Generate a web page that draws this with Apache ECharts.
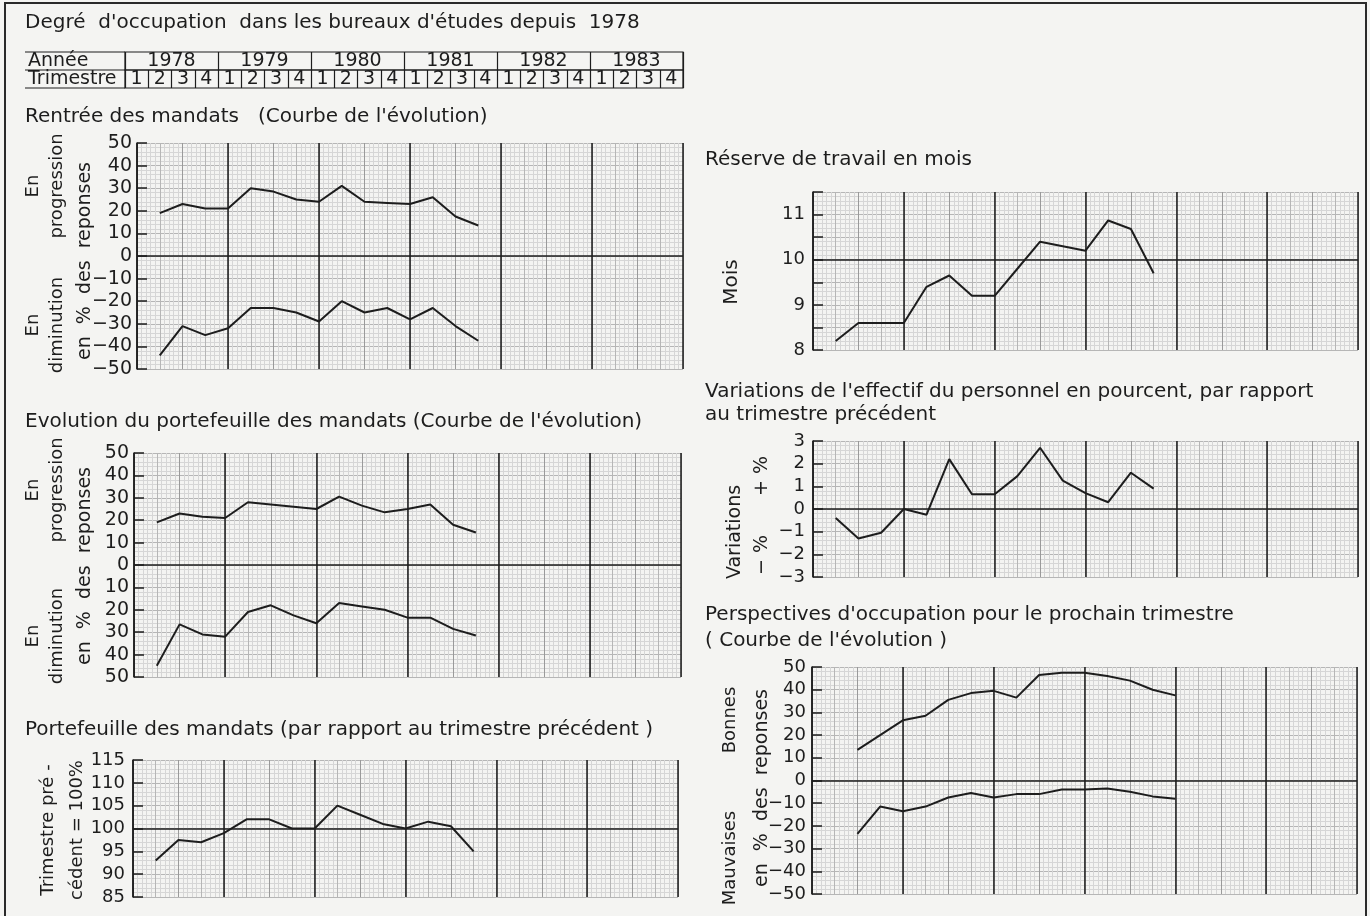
<!DOCTYPE html>
<html><head><meta charset="utf-8">
<script src="https://cdn.jsdelivr.net/npm/echarts@6/dist/echarts.min.js"></script>
<style>html,body{margin:0;padding:0;background:#f4f4f2;}#c{width:1370px;height:916px;}</style>
</head><body><div id="c"></div>
<script>
// ---------- data ----------
const years = ['1978','1979','1980','1981','1982','1983'];
const quarters = ['1','2','3','4'];
// quarter index 1..15 (1978 T1 .. 1981 T3)
const rentreeProgression = [19,23,21,21,30,28.5,25,24,31,24,23.5,23,26,17.5,13.5];
const rentreeDiminution = [-44,-31,-35,-32,-23,-23,-25,-29,-20,-25,-23,-28,-23,-31,-37.5];
const portefeuilleProgression = [19,23,21.5,21,28,27,26,25,30.5,26.5,23.5,25,27,18,14.5];
const portefeuilleDiminution = [-45,-26.5,-31,-32,-21,-18,-22.5,-26,-17,-18.5,-20,-23.5,-23.5,-28.5,-31.5];
const portefeuilleRelatif = [93,97.5,97,99,102,102,100,100,105,103,101,100,101.5,100.5,95];
const reserveMois = [8.2,8.6,8.6,8.6,9.4,9.65,9.2,9.2,9.8,10.4,10.3,10.2,10.87,10.68,9.7];
const variationsEffectif = [-0.4,-1.3,-1.05,0,-0.25,2.2,0.65,0.65,1.45,2.7,1.25,0.7,0.3,1.6,0.9];
// quarter index 2..16
const perspectivesBonnes = [13.5,20,26.5,28.5,35.5,38.5,39.5,36.5,46.5,47.5,47.5,46,44,40,37.5];
const perspectivesMauvaises = [-23.5,-11.5,-13.5,-11.5,-7.5,-5.5,-7.5,-6,-6,-4,-4,-3.5,-5,-7,-8];

// ---------- style ----------
const FONT = 'DejaVu Sans';
const INK = '#1d1d1d';
const FINE = '#d6d6d6', MED = '#b6b6b6', TEN = '#9a9a9a';
const minus = v => String(v).replace('-', '\u2212');

const chart = echarts.init(document.getElementById('c'), null, {width:1370, height:916});
const grids = [], xAxes = [], yAxes = [], series = [];

function addPlot(p){
  const gi = grids.length;
  grids.push({left:p.left, top:p.top, width:p.width, height:p.height});
  const xi = xAxes.length;
  const hidden = {axisLine:{show:false}, axisTick:{show:false}, axisLabel:{show:false}};
  xAxes.push(Object.assign({gridIndex:gi, type:'value', min:0, max:24, interval:1,
    splitLine:{show:true, lineStyle:{color:MED, width:1}},
    minorTick:{show:false, splitNumber:5}, minorSplitLine:{show:true, lineStyle:{color:FINE, width:1}}}, hidden));
  xAxes.push(Object.assign({gridIndex:gi, type:'value', min:0, max:24, interval:2,
    splitLine:{show:true, lineStyle:{color:TEN, width:1}}}, hidden));
  xAxes.push(Object.assign({gridIndex:gi, type:'value', min:0, max:24, interval:4,
    splitLine:{show:true, lineStyle:{color:INK, width:1.5}}}, hidden));
  const yi = yAxes.length;
  yAxes.push({gridIndex:gi, type:'value', min:p.min, max:p.max, interval:p.interval,
    axisLine:{show:true, onZero:false, lineStyle:{color:INK, width:1.5}},
    axisTick:{show:true, inside:true, length:10, lineStyle:{color:INK, width:1.5}},
    axisLabel:{show:true, color:INK, fontFamily:FONT, fontSize:p.fs||18, margin:p.margin||5, formatter:p.fmt||minus},
    splitLine:{show:true, lineStyle:{color:MED, width:1}},
    minorTick:{show:false, splitNumber:5}, minorSplitLine:{show:true, lineStyle:{color:FINE, width:1}}});
  p.lines.forEach((arr, j) => {
    const s = {type:'line', xAxisIndex:xi, yAxisIndex:yi, symbol:'none', z:5,
      data: arr.map((v,i) => [i + p.start, v]),
      lineStyle:{color:INK, width:2}};
    if (j === 0) s.markLine = {silent:true, symbol:['none','none'], label:{show:false},
      lineStyle:{color:INK, width:1.5, type:'solid'}, data:[{yAxis:p.ref}]};
    series.push(s);
  });
}

addPlot({left:137, top:143, width:546, height:226, min:-50, max:50, interval:10, ref:0, start:1,
  lines:[rentreeProgression, rentreeDiminution], fs:19});
addPlot({left:134, top:453, width:547, height:224, min:-50, max:50, interval:10, ref:0, start:1,
  lines:[portefeuilleProgression, portefeuilleDiminution], fmt:v=>String(Math.abs(v)), fs:19});
addPlot({left:133, top:760, width:545, height:137, min:85, max:115, interval:5, ref:100, start:1,
  lines:[portefeuilleRelatif], fs:18, margin:8});
addPlot({left:813, top:192, width:545, height:158, min:8, max:11.5, interval:0.5, ref:10, start:1,
  lines:[reserveMois], fmt:v=>Number.isInteger(v)?String(v):'', margin:8});
addPlot({left:813, top:441, width:545, height:136, min:-3, max:3, interval:1, ref:0, start:1,
  lines:[variationsEffectif], margin:8});
addPlot({left:812, top:667, width:545, height:227, min:-50, max:50, interval:10, ref:0, start:2,
  lines:[perspectivesBonnes, perspectivesMauvaises], margin:6});

// ---------- header table ----------
const HL = 125, HR = 683;
function addHeaderRow(top, label, cats, fmt){
  const gi = grids.length;
  grids.push({left:HL, top:top, width:HR-HL, height:18, show:true, borderColor:INK, borderWidth:1.2, backgroundColor:'transparent'});
  xAxes.push({gridIndex:gi, type:'category', data:cats, boundaryGap:true,
    axisLine:{show:false}, axisTick:{show:false},
    axisLabel:{show:true, inside:true, margin:-1, interval:0, color:INK, fontFamily:FONT, fontSize:19, formatter:fmt},
    splitLine:{show:true, interval:0, lineStyle:{color:INK, width:1.2}}});
  yAxes.push({gridIndex:gi, type:'category', data:[label],
    axisLine:{show:false}, axisTick:{show:false}, splitLine:{show:false},
    axisLabel:{show:true, align:'left', margin:HL-28, color:INK, fontFamily:FONT, fontSize:19}});
}
addHeaderRow(52, 'Année', years, v=>v);
addHeaderRow(70, 'Trimestre', years.flatMap(y => quarters.map(q => y+'|'+q)), v=>v.split('|')[1]);

// ---------- texts ----------
function txt(x, y, text, fs){
  return {type:'text', x:x, y:y, silent:true,
    style:{text:text, fill:INK, font:(fs||20)+'px "'+FONT+'"', textAlign:'left', align:'left', textVerticalAlign:'middle', verticalAlign:'middle'}};
}
function vtxt(x, y, text, lh, fs){
  return {type:'text', x:x, y:y, rotation:Math.PI/2, silent:true,
    style:{text:text, fill:INK, font:(fs||18)+'px "'+FONT+'"', textAlign:'center', align:'center',
      textVerticalAlign:'middle', verticalAlign:'middle', lineHeight:lh||24}};
}
function hline(x1, x2, y){
  return {type:'line', silent:true, shape:{x1:x1, y1:y, x2:x2, y2:y}, style:{stroke:INK, lineWidth:1.2}};
}

const graphic = [
  {type:'rect', silent:true, shape:{x:5, y:3, width:1361, height:930}, style:{fill:'none', stroke:'#2a2a2a', lineWidth:2}},
  txt(25, 23, "Degré  d'occupation  dans les bureaux d'études depuis  1978"),
  hline(25, HL, 52), hline(25, HL, 70), hline(25, HL, 88),
  txt(25, 117, "Rentrée des mandats   (Courbe de l'évolution)"),
  vtxt(45, 186, "En\nprogression"),
  vtxt(85, 261, "en  %  des  reponses", 24, 19),
  vtxt(45, 325, "En\ndiminution"),
  txt(25, 422, "Evolution du portefeuille des mandats (Courbe de l'évolution)"),
  vtxt(45, 490, "En\nprogression"),
  vtxt(85, 566, "en  %  des  reponses", 24, 19),
  vtxt(45, 636, "En\ndiminution"),
  txt(25, 730, "Portefeuille des mandats (par rapport au trimestre précédent )"),
  vtxt(63, 830, "Trimestre pré -\ncédent = 100%", 29),
  txt(705, 160, "Réserve de travail en mois"),
  vtxt(732, 282, "Mois", 24, 20),
  txt(705, 392, "Variations de l'effectif du personnel en pourcent, par rapport"),
  txt(705, 415, "au trimestre précédent"),
  vtxt(735, 532, "Variations", 24, 19),
  vtxt(762, 476, "+ %", 24, 19),
  vtxt(762, 555, "\u2212 %", 24, 19),
  txt(705, 615, "Perspectives d'occupation pour le prochain trimestre"),
  txt(705, 641, "( Courbe de l'évolution )"),
  vtxt(730, 720, "Bonnes"),
  vtxt(762, 788, "en  %  des  reponses", 24, 19),
  vtxt(730, 858, "Mauvaises")
];

chart.setOption({
  backgroundColor:'#f4f4f2',
  animation:false,
  textStyle:{fontFamily:FONT},
  grid:grids, xAxis:xAxes, yAxis:yAxes, series:series, graphic:graphic
});
</script></body></html>
